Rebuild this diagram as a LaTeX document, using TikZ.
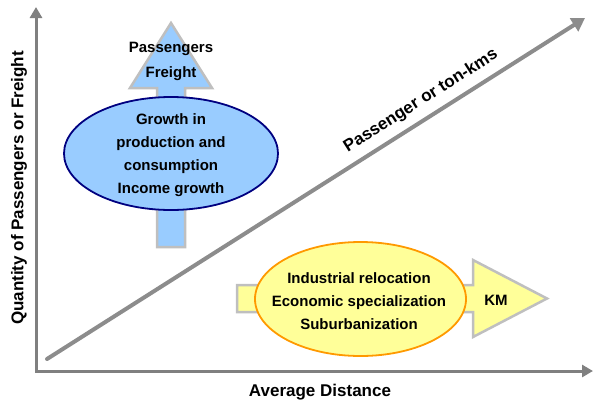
\documentclass[tikz,border=0pt]{standalone}
\usepackage{fontspec}
\setmainfont{Liberation Sans}
\usetikzlibrary{shapes.geometric,arrows.meta}
\definecolor{axisgray}{HTML}{808080}
\definecolor{diaggray}{HTML}{8C8C8C}
\definecolor{outlinegray}{HTML}{BFBFBF}
\definecolor{lightblue}{HTML}{99CCFF}
\definecolor{navyline}{HTML}{000080}
\definecolor{lightyellow}{HTML}{FFFF99}
\definecolor{orangeline}{HTML}{FF9900}
\tikzset{
  axisline/.style={draw=axisgray, line width=3pt, line join=miter},
  diagline/.style={draw=diaggray, line width=4pt, -{Triangle[length=13pt,width=15pt]}},
  bigarrow/.style={draw=outlinegray, line width=2.5pt, line join=miter},
  ovalbox/.style={ellipse, line width=1.8pt, inner sep=0pt},
  bodytext/.style={font=\bfseries\fontsize{15}{23}\selectfont, align=center, inner sep=0pt},
  labeltext/.style={font=\bfseries\fontsize{17}{20}\selectfont, inner sep=0pt},
}
\begin{document}
\begin{tikzpicture}[x=1pt,y=-1pt]
\useasboundingbox (0,0) rectangle (593,399);
% axes
\coordinate (ytip) at (36,7);
\coordinate (origin) at (36,371);
\coordinate (xtip) at (593,371);
\draw[axisline, {Triangle[length=11pt,width=12pt]}-{Triangle[length=11pt,width=12pt]}] (ytip) -- (origin) -- (xtip);
% diagonal
\coordinate (dstart) at (47,359);
\coordinate (dtip) at (585,18);
\draw[diagline, line cap=round] (dstart) -- (dtip);
\node[labeltext, rotate=32.4] (diaglabel) at (421,101) {Passenger or ton-kms};
% blue up arrow
\draw[bigarrow, fill=lightblue] (157,247) -- (157,88) -- (130,88) -- (171,23) -- (212,88) -- (185,88) -- (185,247) -- cycle;
\node[bodytext, font=\bfseries\fontsize{15}{25}\selectfont] (uplabel) at (171,61.5) {Passengers\\Freight};
\node[ovalbox, draw=navyline, fill=lightblue, minimum width=214pt, minimum height=113pt] (growth) at (171,153.5) {};
\node[bodytext] (growthtext) at (171,155) {Growth in\\production and\\consumption\\Income growth};
% yellow right arrow
\draw[bigarrow, fill=lightyellow] (237,285) -- (473,285) -- (473,260) -- (547,298.5) -- (473,337) -- (473,312) -- (237,312) -- cycle;
\node[bodytext] (km) at (496,300) {KM};
\node[ovalbox, draw=orangeline, fill=lightyellow, minimum width=211pt, minimum height=114pt] (reloc) at (360.5,299) {};
\node[bodytext] (reloctext) at (359,301.5) {Industrial relocation\\Economic specialization\\Suburbanization};
% axis labels
\node[labeltext, anchor=base] (xlabel) at (320,396) {Average Distance};
\node[labeltext, rotate=90] (ylabel) at (19,188) {Quantity of Passengers or Freight};
\end{tikzpicture}
\end{document}
